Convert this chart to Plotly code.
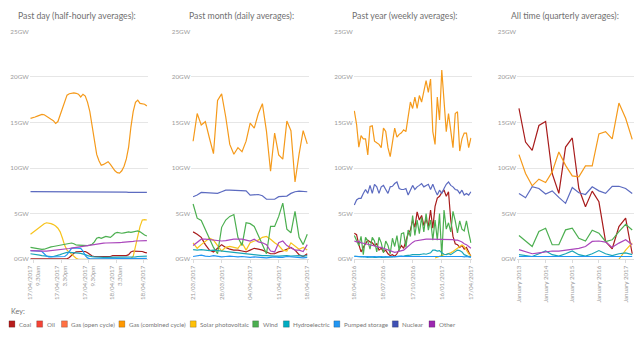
import plotly.graph_objects as go
import pandas as pd

# ---------------- data ----------------
series_names = ["Coal", "Oil", "Gas (open cycle)", "Gas (combined cycle)", "Solar photovoltaic",
                "Wind", "Hydroelectric", "Pumped storage", "Nuclear", "Other"]
series_colors = ["#b71c1c", "#f44336", "#ff7043", "#ff9800", "#ffc107",
                 "#4caf50", "#00acc1", "#2196f3", "#3f51b5", "#9c27b0"]
line_colors = {"Coal": "#a81c1c", "Gas (combined cycle)": "#f59a1b", "Solar photovoltaic": "#f7c31c",
               "Wind": "#4caf50", "Hydroelectric": "#1aa6b7", "Pumped storage": "#2196f3",
               "Nuclear": "#5c6bc0", "Other": "#ab47bc"}

panel_titles = ["Past day (half-hourly averages):", "Past month (daily averages):",
                "Past year (weekly averages):", "All time (quarterly averages):"]

# Past day (half-hourly)
day_start = "2017-04-17 08:45"
day_gas_cc = [15.45, 15.5, 15.6, 15.7, 15.8, 15.88, 15.85, 15.65, 15.5, 15.35, 15.2, 14.9, 15.1, 15.8, 16.6,
              17.4, 18.0, 18.15, 18.2, 18.25, 18.2, 18.1, 17.8, 18.1, 17.9, 17.2, 16.2, 14.5, 12.7, 11.5, 10.8,
              10.3, 10.4, 10.6, 10.7, 10.4, 10.0, 9.7, 9.5, 9.45, 9.7, 10.2, 11.0, 12.3, 14.5, 16.2, 17.2, 17.45,
              17.1, 17.05, 17.0, 16.8]
day_nuclear = [7.42, 7.42, 7.42, 7.42, 7.42, 7.42, 7.42, 7.42, 7.42, 7.42, 7.42, 7.42, 7.42, 7.42, 7.42, 7.42,
               7.42, 7.42, 7.42, 7.42, 7.42, 7.42, 7.42, 7.42, 7.42, 7.42, 7.42, 7.42, 7.42, 7.42, 7.42, 7.42,
               7.42, 7.42, 7.42, 7.42, 7.42, 7.42, 7.42, 7.42, 7.42, 7.4, 7.36, 7.33, 7.33, 7.33, 7.33, 7.33,
               7.33, 7.33, 7.33, 7.33]
day_solar = [2.74, 2.95, 3.15, 3.35, 3.55, 3.75, 3.9, 4.0, 3.98, 3.9, 3.8, 3.65, 3.4, 3.0, 2.3, 1.5, 1.0, 0.75,
             0.5, 0.3, 0.1, 0.0, 0.0, 0.0, 0.0, 0.0, 0.0, 0.0, 0.0, 0.0, 0.0, 0.0, 0.0, 0.0, 0.0, 0.0, 0.0, 0.0,
             0.0, 0.0, 0.0, 0.0, 0.0, 0.0, 0.1, 0.3, 1.4, 2.6, 3.6, 4.3, 4.35, 4.3]
day_wind = [1.3, 1.25, 1.2, 1.15, 1.1, 1.08, 1.1, 1.2, 1.28, 1.35, 1.4, 1.45, 1.5, 1.52, 1.56, 1.6, 1.65, 1.7,
            1.78, 1.7, 1.56, 1.55, 1.52, 1.5, 1.5, 1.5, 1.55, 1.65, 1.9, 2.3, 2.4, 2.3, 2.4, 2.5, 2.45, 2.4, 2.6,
            2.85, 2.95, 2.9, 2.85, 2.9, 2.95, 3.0, 2.95, 3.0, 3.05, 3.1, 3.0, 2.8, 2.65, 2.55]
day_other = [0.95, 0.93, 0.9, 0.88, 0.87, 0.87, 0.88, 0.9, 0.92, 0.94, 0.96, 0.98, 1.0, 1.03, 1.06, 1.1, 1.14,
             1.18, 1.22, 1.26, 1.3, 1.35, 1.4, 1.45, 1.5, 1.55, 1.6, 1.63, 1.66, 1.69, 1.72, 1.74, 1.76, 1.78,
             1.8, 1.8, 1.81, 1.82, 1.82, 1.83, 1.84, 1.85, 1.87, 1.9, 1.93, 1.96, 2.0, 2.02, 2.04, 2.05, 2.05, 2.05]
day_hydro = [0.6, 0.58, 0.55, 0.5, 0.45, 0.4, 0.35, 0.3, 0.28, 0.28, 0.3, 0.35, 0.4, 0.5, 0.6, 0.7, 0.75, 0.75,
             0.75, 0.72, 0.7, 0.68, 0.65, 0.6, 0.5, 0.4, 0.32, 0.28, 0.25, 0.22, 0.2, 0.2, 0.2, 0.2, 0.2, 0.2,
             0.2, 0.2, 0.2, 0.2, 0.2, 0.2, 0.2, 0.2, 0.2, 0.22, 0.25, 0.3, 0.33, 0.35, 0.35, 0.35]
day_pumped = [0.95, 0.95, 0.95, 0.92, 0.9, 0.85, 0.6, 0.35, 0.25, 0.25, 0.25, 0.25, 0.25, 0.25, 0.25, 0.3, 0.5,
              0.9, 1.2, 1.25, 1.25, 1.25, 1.2, 0.9, 0.4, 0.15, 0.05, 0.05, 0.05, 0.05, 0.05, 0.05, 0.05, 0.05,
              0.05, 0.05, 0.05, 0.05, 0.05, 0.05, 0.05, 0.05, 0.05, 0.05, 0.05, 0.05, 0.05, 0.08, 0.1, 0.1,
              0.1, 0.1]
day_coal = [0.05, 0.05, 0.05, 0.05, 0.05, 0.05, 0.05, 0.05, 0.05, 0.05, 0.05, 0.05, 0.05, 0.05, 0.05, 0.05,
            0.05, 0.2, 0.45, 0.65, 0.8, 0.85, 0.85, 0.85, 0.85, 0.7, 0.5, 0.35, 0.3, 0.3, 0.3, 0.3, 0.3, 0.3,
            0.3, 0.3, 0.4, 0.4, 0.4, 0.4, 0.4, 0.4, 0.4, 0.5, 0.8, 0.9, 0.9, 0.9, 0.9, 0.85, 0.75, 0.7]
day_tickvals = ["2017-04-17 09:30", "2017-04-17 15:30", "2017-04-17 21:30", "2017-04-18 03:30", "2017-04-18 09:30"]
day_ticktext = ["17/04/2017<br>9.30am", "17/04/2017<br>3.30pm", "17/04/2017<br>9.30pm",
                "18/04/2017<br>3.30am", "18/04/2017"]

# Past month (daily)
month_start = "2017-03-21"
month_gas_cc = [12.94, 15.98, 14.73, 15.09, 13.3, 11.58, 17.42, 18.14, 15.63, 12.59, 11.52, 12.24, 11.8, 12.95,
                14.92, 14.38, 15.98, 17.06, 14.02, 9.65, 13.84, 11.44, 10.98, 15.16, 14.1, 8.47, 11.52, 14.1, 12.66]
month_nuclear = [6.86, 7.04, 7.33, 7.3, 7.22, 7.22, 7.22, 7.4, 7.58, 7.58, 7.58, 7.58, 7.58, 7.5, 7.04, 7.04,
                 7.1, 6.97, 6.58, 6.58, 6.58, 6.86, 6.93, 6.93, 7.22, 7.4, 7.47, 7.47, 7.4]
month_wind = [6.06, 4.5, 4.25, 3.3, 2.3, 1.3, 0.6, 3.5, 4.3, 4.7, 4.9, 2.4, 1.5, 4.0, 3.9, 3.6, 2.6, 1.5, 0.6,
              3.6, 3.6, 4.7, 6.15, 3.3, 2.9, 5.25, 2.4, 1.6, 2.75]
month_coal = [3.0, 2.75, 2.4, 1.6, 1.0, 0.8, 1.2, 1.6, 1.3, 1.1, 1.0, 1.0, 0.9, 0.8, 1.0, 1.2, 1.1, 1.0, 0.8,
              0.6, 0.6, 0.8, 0.9, 1.1, 1.3, 1.0, 0.5, 0.3, 0.6]
month_other = [1.5, 1.9, 2.2, 2.2, 2.15, 2.1, 2.1, 2.0, 2.05, 2.15, 2.2, 2.2, 2.2, 2.1, 2.0, 2.2, 1.9, 1.8,
               1.6, 0.9, 0.8, 1.8, 2.0, 1.5, 1.2, 1.0, 1.0, 0.85, 1.6]
month_solar = [1.8, 1.2, 1.6, 2.0, 2.3, 2.1, 1.5, 0.9, 1.3, 1.4, 1.3, 1.2, 1.8, 1.0, 1.8, 2.0, 2.1, 2.4, 2.5,
               2.2, 1.8, 1.5, 1.0, 0.9, 1.8, 1.4, 1.1, 1.3, 1.0]
month_hydro = [1.05, 1.0, 1.05, 1.0, 0.95, 1.0, 0.95, 0.9, 0.85, 0.8, 0.7, 0.65, 0.6, 0.6, 0.55, 0.5, 0.45, 0.4,
               0.4, 0.35, 0.35, 0.35, 0.4, 0.4, 0.35, 0.4, 0.4, 0.35, 0.4]
month_pumped = [0.3, 0.35, 0.45, 0.35, 0.3, 0.4, 0.3, 0.25, 0.3, 0.35, 0.3, 0.25, 0.3, 0.25, 0.2, 0.25, 0.2, 0.2,
                0.15, 0.2, 0.25, 0.2, 0.2, 0.3, 0.25, 0.2, 0.2, 0.15, 0.2]
month_tickvals = ["2017-03-21", "2017-03-28", "2017-04-04", "2017-04-11", "2017-04-18"]
month_ticktext = ["21/03/2017", "28/03/2017", "04/04/2017", "11/04/2017", "18/04/2017"]

# Past year (weekly)
year_start = "2016-04-18"
year_gas_cc = [16.27, 14.8, 12.3, 13.56, 13.2, 13.2, 11.44, 14.56, 14.63, 12.95, 12.77, 12.6, 12.24, 14.38, 14.02,
               12.24, 11.26, 12.6, 14.38, 13.4, 13.7, 13.86, 14.2, 14.0, 15.63, 17.24, 16.54, 17.78, 16.54, 17.96,
               17.24, 18.5, 19.58, 18.3, 19.76, 14.0, 12.6, 17.78, 15.27, 20.75, 17.24, 14.0, 15.98, 14.38, 12.24,
               15.98, 16.17, 11.87, 13.2, 13.84, 13.84, 12.24, 13.3]
year_nuclear = [5.96, 6.5, 6.68, 6.68, 7.22, 7.65, 7.22, 8.1, 7.22, 8.22, 7.94, 7.22, 7.94, 8.1, 7.65, 7.22, 7.94,
                8.0, 8.3, 8.47, 7.76, 7.65, 7.65, 7.76, 7.04, 7.58, 8.1, 7.65, 7.94, 8.1, 8.3, 7.94, 8.1, 8.22,
                7.65, 8.22, 7.58, 7.04, 7.58, 7.22, 7.76, 8.22, 8.47, 8.1, 7.94, 7.65, 7.58, 7.22, 7.58, 7.04,
                7.22, 7.04, 7.4]
year_coal = [2.85, 2.7, 1.6, 0.8, 1.3, 1.7, 2.1, 1.9, 1.8, 1.5, 1.7, 1.0, 1.2, 0.8, 1.0, 0.6, 0.4, 0.5, 0.3,
             0.6, 1.1, 1.5, 1.2, 2.0, 2.8, 3.2, 4.3, 3.5, 5.2, 4.3, 4.8, 3.7, 4.4, 3.6, 5.4, 3.4, 5.8, 6.7, 6.9,
             7.3, 7.6, 6.9, 7.4, 4.3, 2.5, 1.7, 1.6, 1.3, 1.5, 1.1, 1.3, 0.8, 0.3]
year_wind = [2.6, 2.0, 1.5, 2.5, 0.5, 2.4, 2.0, 1.1, 2.4, 2.0, 0.8, 2.4, 1.8, 0.7, 2.0, 1.5, 0.6, 2.3, 1.4, 2.6,
             0.9, 2.8, 2.9, 1.3, 3.2, 2.5, 4.8, 2.6, 4.3, 2.8, 4.6, 3.0, 5.0, 3.2, 4.3, 2.1, 4.3, 2.1, 5.0, 0.3,
             5.4, 3.3, 4.0, 3.0, 5.25, 4.2, 2.9, 4.2, 3.3, 3.1, 4.2, 2.9, 1.8]
year_other = [2.0, 1.9, 1.95, 1.8, 1.75, 1.7, 1.6, 1.55, 1.5, 1.45, 1.4, 1.3, 1.3, 1.2, 1.1, 1.0, 0.9, 0.8, 0.75,
              0.8, 0.85, 0.9, 1.0, 1.2, 1.45, 1.7, 1.85, 2.0, 2.05, 2.1, 2.1, 2.15, 2.2, 2.2, 2.2, 2.15, 2.2, 2.2,
              2.2, 2.2, 2.15, 2.2, 2.2, 2.2, 2.15, 2.1, 2.1, 2.0, 1.9, 1.7, 1.6, 1.4, 1.2]
year_hydro = [0.35, 0.3, 0.3, 0.25, 0.3, 0.25, 0.2, 0.25, 0.2, 0.2, 0.2, 0.25, 0.2, 0.2, 0.2, 0.25, 0.2, 0.25,
              0.3, 0.3, 0.35, 0.3, 0.35, 0.4, 0.4, 0.45, 0.5, 0.5, 0.45, 0.5, 0.55, 0.6, 0.55, 0.6, 0.7, 1.0, 1.0,
              0.9, 0.95, 0.7, 0.55, 0.5, 0.6, 0.5, 0.7, 0.9, 1.0, 0.95, 0.8, 0.5, 0.4, 0.3, 0.3]
year_pumped = [0.3, 0.3, 0.35, 0.3, 0.25, 0.3, 0.3, 0.25, 0.3, 0.3, 0.25, 0.3, 0.3, 0.25, 0.3, 0.25, 0.3, 0.3,
               0.25, 0.3, 0.3, 0.35, 0.3, 0.3, 0.35, 0.3, 0.3, 0.35, 0.3, 0.3, 0.35, 0.3, 0.35, 0.3, 0.3, 0.35,
               0.3, 0.35, 0.3, 0.3, 0.35, 0.3, 0.3, 0.35, 0.3, 0.3, 0.35, 0.3, 0.3, 0.25, 0.3, 0.25, 0.2]
year_solar = [None] * 36 + [0.14, 0.25, 0.3, 0.4, 0.5, 0.55, 0.6, 0.7, 0.85, 1.0, 1.2, 1.4, 1.56, 1.4, 1.0,
                            0.6, 0.4]
year_tickvals = ["2016-04-18", "2016-07-18", "2016-10-17", "2017-01-16", "2017-04-17"]
year_ticktext = ["18/04/2016", "18/07/2016", "17/10/2016", "16/01/2017", "17/04/2017"]

# All time (quarterly)
alltime_start = "2013-01-01"
alltime_coal = [16.55, 12.85, 11.94, 14.67, 15.1, 9.4, 7.22, 12.3, 13.3, 7.76, 5.76, 7.47, 6.3, 1.95, 1.15,
                3.58, 4.5, 0.6]
alltime_gas_cc = [11.47, 9.4, 8.05, 8.78, 8.42, 9.58, 11.76, 10.3, 9.14, 9.04, 10.23, 10.23, 13.75, 14.0, 13.2,
                  17.13, 15.46, 13.14]
alltime_nuclear = [7.22, 6.75, 7.95, 7.76, 7.15, 7.5, 6.78, 6.13, 7.87, 7.29, 7.1, 7.95, 7.5, 7.22, 8.0, 8.0,
                   7.76, 7.22]
alltime_wind = [2.6, 1.95, 1.4, 3.04, 3.4, 1.59, 1.59, 3.22, 3.4, 2.3, 2.0, 3.18, 2.86, 1.95, 2.13, 3.04, 3.84, 3.2]
alltime_other = [1.06, 0.8, 0.6, 0.7, 0.8, 0.9, 0.9, 1.0, 1.1, 1.2, 1.4, 1.95, 2.0, 1.88, 1.3, 1.77, 2.13, 1.59]
alltime_hydro = [0.5, 0.4, 0.3, 0.6, 0.9, 0.5, 0.35, 0.6, 0.9, 0.5, 0.35, 0.6, 0.95, 0.6, 0.4, 0.6, 0.7, 0.5]
alltime_pumped = [0.3, 0.3, 0.25, 0.3, 0.3, 0.3, 0.25, 0.3, 0.3, 0.3, 0.25, 0.3, 0.3, 0.3, 0.25, 0.3, 0.3, 0.3]
alltime_solar = [None] * 15 + [0.0, 1.0, 1.8]
alltime_tickvals = ["2013-01-01", "2014-01-01", "2015-01-01", "2016-01-01", "2017-01-01"]
alltime_ticktext = ["January 2013", "January 2014", "January 2015", "January 2016", "January 2017"]

y_tickvals = [0, 5, 10, 15, 20, 25]
y_ticktext = ["0GW", "5GW", "10GW", "15GW", "20GW", "25GW"]

# ---------------- layout helpers ----------------
W, H = 640, 340
FONT = "Lato, 'Open Sans', sans-serif"


def px_x(p):
    return p / W


def px_y(p):
    return 1 - p / H


panels = [
    dict(start=day_start, freq="30min",
         series={"Coal": day_coal, "Gas (combined cycle)": day_gas_cc, "Solar photovoltaic": day_solar,
                 "Wind": day_wind, "Hydroelectric": day_hydro, "Pumped storage": day_pumped,
                 "Nuclear": day_nuclear, "Other": day_other},
         tickvals=day_tickvals, ticktext=day_ticktext, dom=(26, 145), pad=pd.Timedelta(minutes=10),
         title_x=74),
    dict(start=month_start, freq="D",
         series={"Coal": month_coal, "Gas (combined cycle)": month_gas_cc, "Solar photovoltaic": month_solar,
                 "Wind": month_wind, "Hydroelectric": month_hydro, "Pumped storage": month_pumped,
                 "Nuclear": month_nuclear, "Other": month_other},
         tickvals=month_tickvals, ticktext=month_ticktext, dom=(189, 308), pad=pd.Timedelta(hours=11),
         title_x=240),
    dict(start=year_start, freq="7D",
         series={"Coal": year_coal, "Gas (combined cycle)": year_gas_cc, "Solar photovoltaic": year_solar,
                 "Wind": year_wind, "Hydroelectric": year_hydro, "Pumped storage": year_pumped,
                 "Nuclear": year_nuclear, "Other": year_other},
         tickvals=year_tickvals, ticktext=year_ticktext, dom=(353, 472), pad=pd.Timedelta(days=2),
         title_x=404),
    dict(start=alltime_start, freq="QS",
         series={"Coal": alltime_coal, "Gas (combined cycle)": alltime_gas_cc, "Solar photovoltaic": alltime_solar,
                 "Wind": alltime_wind, "Hydroelectric": alltime_hydro, "Pumped storage": alltime_pumped,
                 "Nuclear": alltime_nuclear, "Other": alltime_other},
         tickvals=alltime_tickvals, ticktext=alltime_ticktext, dom=(518, 636), pad=pd.Timedelta(days=25),
         title_x=566),
]

fig = go.Figure()
layout = dict(width=W, height=H, margin=dict(l=0, r=0, t=0, b=0), paper_bgcolor="white",
              plot_bgcolor="white", showlegend=False, font=dict(family=FONT, color="#777"))
annotations = []
shapes = []

for k, p in enumerate(panels):
    n = len(next(iter(p["series"].values())))
    xs = pd.date_range(p["start"], periods=n, freq=p["freq"])
    suffix = "" if k == 0 else str(k + 1)
    for name in series_names:
        if name not in p["series"]:
            continue
        fig.add_trace(go.Scatter(x=xs, y=p["series"][name], mode="lines", name=name,
                                 line=dict(color=line_colors[name], width=1.2),
                                 xaxis="x" + suffix, yaxis="y" + suffix, connectgaps=False,
                                 hoverinfo="x+y+name"))
    d0, d1 = p["dom"]
    layout["xaxis" + suffix] = dict(
        domain=[px_x(d0), px_x(d1)], anchor="y" + suffix, type="date",
        range=[xs[0] - p["pad"], xs[-1] + p["pad"]],
        tickmode="array", tickvals=p["tickvals"], ticktext=p["ticktext"], tickangle=-90,
        tickfont=dict(size=6.2, color="#9a9a9a", family=FONT), showgrid=False, zeroline=False,
        showline=True, linecolor="#dcdcdc", linewidth=1, ticks="outside", ticklen=3, tickcolor="#dcdcdc")
    layout["yaxis" + suffix] = dict(
        domain=[px_y(260.6), px_y(27.7)], anchor="x" + suffix, range=[0, 25.02],
        tickmode="array", tickvals=y_tickvals, ticktext=y_ticktext,
        tickfont=dict(size=6.3, color="#9a9a9a", family=FONT), showgrid=True, gridcolor="#e6e6e6",
        gridwidth=1, zeroline=False, showline=False, ticks="")
    annotations.append(dict(text=panel_titles[k], x=px_x(p["title_x"]),
                            y=px_y(12), xref="paper", yref="paper", showarrow=False,
                            xanchor="center", yanchor="middle",
                            font=dict(size=8.7, color="#707070", family=FONT)))

# Key
annotations.append(dict(text="Key:", x=px_x(5), y=px_y(313.5), xref="paper", yref="paper", showarrow=False,
                        xanchor="left", yanchor="middle", font=dict(size=7.2, color="#707070", family=FONT)))
legend_x = [5, 33, 58, 116, 188, 251, 282, 333, 392, 429]
for name, col, lx in zip(series_names, series_colors, legend_x):
    shapes.append(dict(type="rect", xref="paper", yref="paper", x0=px_x(lx), x1=px_x(lx + 6),
                       y0=px_y(330), y1=px_y(323.5), fillcolor=col,
                       line=dict(color="rgba(0,0,0,0.25)", width=0.8)))
    annotations.append(dict(text=name, x=px_x(lx + 8), y=px_y(326.8), xref="paper", yref="paper",
                            showarrow=False, xanchor="left", yanchor="middle",
                            font=dict(size=6.2, color="#777", family=FONT)))

layout["annotations"] = annotations
layout["shapes"] = shapes
fig.update_layout(**layout)
fig.write_html("out.html")
